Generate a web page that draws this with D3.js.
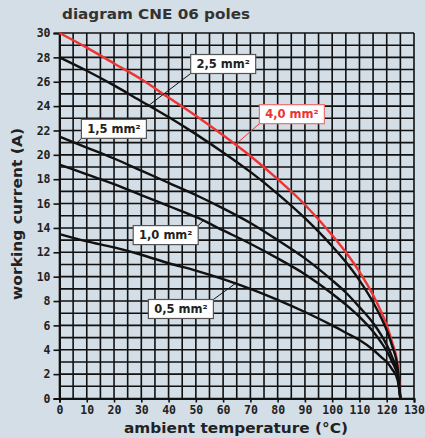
<!DOCTYPE html>
<html>
<head>
<meta charset="utf-8">
<script src="https://cdn.jsdelivr.net/npm/d3@7"></script>
<style>
  html, body { margin: 0; padding: 0; background: #d3dee6; }
  svg { display: block; }
</style>
</head>
<body>
<div id="chart"></div>
<script>
// ambient temperature (°C) sample points
const temps = [0, 10, 20, 30, 40, 50, 60, 70, 80, 90, 100, 105, 110, 115, 118, 120, 122, 124, 125];

// working current (A) for each cross-section
const current40 = [30, 28.8, 27.5, 26.2, 24.7, 23.2, 21.6, 19.9, 18.0, 15.9, 13.4, 12.0, 10.4, 8.5, 7.1, 6.0, 4.6, 2.7, 0];
const current25 = [28, 26.9, 25.7, 24.4, 23.1, 21.7, 20.2, 18.6, 16.8, 14.8, 12.5, 11.2, 9.7, 7.9, 6.6, 5.6, 4.3, 2.5, 0];
const current15 = [21.5, 20.6, 19.7, 18.7, 17.7, 16.7, 15.6, 14.4, 13.0, 11.5, 9.7, 8.7, 7.5, 6.2, 5.2, 4.4, 3.4, 2.0, 0];
const current10 = [19.2, 18.4, 17.6, 16.7, 15.8, 14.9, 13.8, 12.7, 11.5, 10.2, 8.6, 7.7, 6.7, 5.5, 4.6, 3.9, 3.0, 1.8, 0];
const current05 = [13.5, 12.9, 12.4, 11.8, 11.1, 10.5, 9.8, 9.0, 8.1, 7.1, 6.0, 5.4, 4.8, 4.0, 3.4, 3.0, 2.4, 1.5, 0];

const seriesNames = ["4,0 mm²", "2,5 mm²", "1,5 mm²", "1,0 mm²", "0,5 mm²"];
const seriesValues = [current40, current25, current15, current10, current05];

// temperature on each curve that its label points to
const labelTemps = [64.5, 32.7, 6.2, 52.7, 64.5];

const xTicks = d3.range(0, 131, 10);
const yTicks = d3.range(0, 31, 2);

const width = 425, height = 438;
const margin = { top: 33, right: 11, bottom: 39.5, left: 59.5 };
const red = "#ee3333";
const ink = "#222";

const svg = d3.select("#chart").append("svg")
    .attr("width", width)
    .attr("height", height);

svg.append("rect")
    .attr("width", width)
    .attr("height", height)
    .attr("fill", "#d3dee6");

const x = d3.scaleLinear().domain([0, 130]).range([margin.left, width - margin.right]);
const y = d3.scaleLinear().domain([0, 30]).range([height - margin.bottom, margin.top]);

// title
svg.append("text")
    .attr("x", 62)
    .attr("y", 19)
    .attr("fill", "#333")
    .attr("textLength", 188)
    .attr("lengthAdjust", "spacingAndGlyphs")
    .style("font-family", "DejaVu Sans")
    .style("font-weight", "bold")
    .style("font-size", "14px")
    .text("diagram CNE 06 poles");

// grid: every 5 °C and every 1 A
const grid = svg.append("g").attr("stroke", "#111").attr("stroke-width", 1.6);
grid.selectAll(".vline")
    .data(d3.range(0, 131, 5))
    .enter().append("line")
    .attr("x1", d => x(d)).attr("x2", d => x(d))
    .attr("y1", y(30)).attr("y2", y(0));
grid.selectAll(".hline")
    .data(d3.range(0, 31, 1))
    .enter().append("line")
    .attr("x1", x(0)).attr("x2", x(130))
    .attr("y1", d => y(d)).attr("y2", d => y(d));

// axes
const yAxis = svg.append("g")
    .attr("transform", `translate(${x(0)},0)`)
    .call(d3.axisLeft(y).tickValues(yTicks).tickSize(6).tickPadding(3).tickFormat(d3.format("d")));
const xAxis = svg.append("g")
    .attr("transform", `translate(0,${y(0)})`)
    .call(d3.axisBottom(x).tickValues(xTicks).tickSize(4).tickPadding(3).tickFormat(d3.format("d")));

[xAxis, yAxis].forEach(a => {
    a.select(".domain").attr("stroke", "#111").attr("stroke-width", 2);
    a.selectAll(".tick line").attr("stroke", "#111").attr("stroke-width", 1.6);
    a.selectAll("text")
        .attr("fill", ink)
        .style("font-family", "DejaVu Sans Mono")
        .style("font-weight", "bold")
        .style("font-size", "11.5px");
});

// axis titles
svg.append("text")
    .attr("transform", `translate(22,214) rotate(-90)`)
    .attr("text-anchor", "middle")
    .attr("fill", ink)
    .attr("textLength", 172)
    .attr("lengthAdjust", "spacingAndGlyphs")
    .style("font-family", "DejaVu Sans")
    .style("font-weight", "bold")
    .style("font-size", "14px")
    .text("working current (A)");

svg.append("text")
    .attr("x", 236)
    .attr("y", 433)
    .attr("text-anchor", "middle")
    .attr("fill", ink)
    .attr("textLength", 224)
    .attr("lengthAdjust", "spacingAndGlyphs")
    .style("font-family", "DejaVu Sans")
    .style("font-weight", "bold")
    .style("font-size", "14px")
    .text("ambient temperature (°C)");

// curves
const line = d3.line()
    .x((d, i) => x(temps[i]))
    .y(d => y(d))
    .curve(d3.curveMonotoneX);

seriesValues.forEach((vals, i) => {
    svg.append("path")
        .datum(vals)
        .attr("fill", "none")
        .attr("stroke", i === 0 ? red : "#111")
        .attr("stroke-width", 2.4)
        .attr("d", line);
});

// label boxes: offset of the leader's box corner from the curve point (px),
// and which corner of the box the leader meets
const labelOffsets = [[24, -21], [42, -32], [5, -5], [-5, 5], [-22, 16]];
const labelCorner = ["bottomLeft", "bottomLeft", "bottomLeft", "topRight", "topRight"];
const boxW = 65, boxH = 19;

seriesNames.forEach((name, i) => {
    const t = labelTemps[i];
    const yi = d3.scaleLinear().domain(temps).range(seriesValues[i]);
    const px = x(t), py = y(yi(t));
    const cx = px + labelOffsets[i][0], cy = py + labelOffsets[i][1];
    const col = i === 0 ? red : "#111";

    svg.append("line")
        .attr("x1", px).attr("y1", py)
        .attr("x2", cx).attr("y2", cy)
        .attr("stroke", col)
        .attr("stroke-width", 1);

    const left = labelCorner[i] === "bottomLeft" ? cx : cx - boxW;
    const top = labelCorner[i] === "bottomLeft" ? cy - boxH : cy;

    svg.append("rect")
        .attr("x", left).attr("y", top)
        .attr("width", boxW).attr("height", boxH)
        .attr("fill", "#fff")
        .attr("stroke", i === 0 ? "#f07070" : "#555")
        .attr("stroke-width", 1.2);
    svg.append("text")
        .attr("x", left + boxW / 2)
        .attr("y", top + boxH / 2 + 4)
        .attr("text-anchor", "middle")
        .attr("fill", i === 0 ? red : ink)
        .style("font-family", "DejaVu Sans")
        .style("font-weight", "bold")
        .style("font-size", "11.5px")
        .text(name);
});
</script>
</body>
</html>
